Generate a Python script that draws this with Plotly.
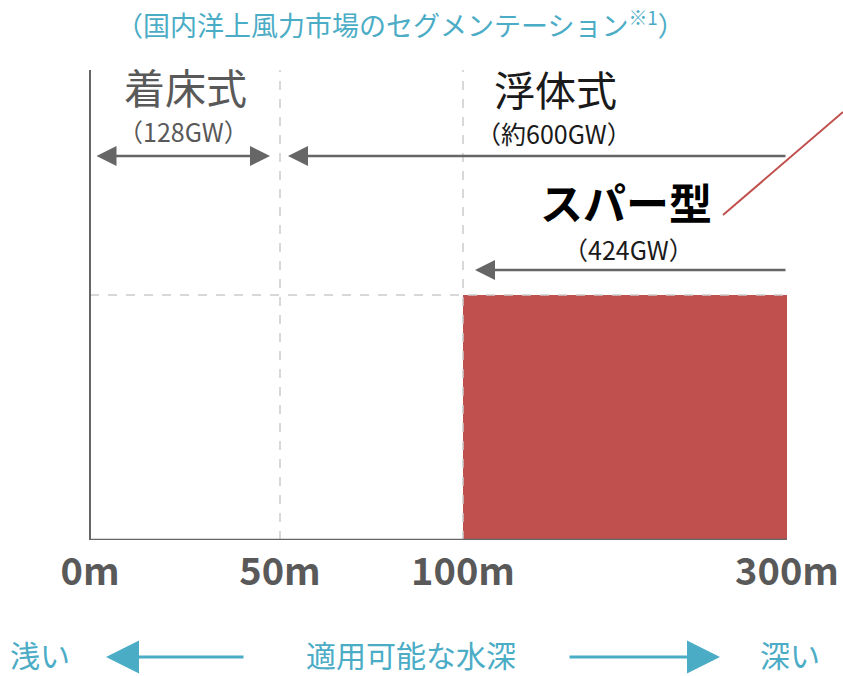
import plotly.graph_objects as go

# ---- data ----
depth_labels = ["0m", "50m", "100m", "300m"]
segment_names = ["着床式", "浮体式", "スパー型"]
segment_capacity = ["（128GW）", "（約600GW）", "（424GW）"]
segment_start = [0, 1, 2]   # index into depth_labels
segment_end = [1, 3, 3]
highlight_segment = 2       # スパー型 drawn as bar
bar_value = [1.0]

title_text = "（国内洋上風力市場のセグメンテーション<sup>※1</sup>）"
bottom_left = "浅い"
bottom_mid = "適用可能な水深"
bottom_right = "深い"

# ---- layout helpers ----
W, H = 843, 676
PLOT_BOTTOM = 540            # pixel row of x-axis
X0 = 90                      # pixel column of 0m
YUNIT = 245                  # pixels per bar unit
depth_pos = [0, 190, 373, 697]   # horizontal tick positions (axis units = px)

def X(px):
    return px - X0

def Y(py):
    return (PLOT_BOTTOM - py) / YUNIT

def PY(py):
    return (PLOT_BOTTOM - py) / PLOT_BOTTOM

GRAY = "#666666"
TXT_GRAY = "#595959"
TEAL = "#4BACC6"
RED = "#C0504D"
JP = "Noto Sans CJK JP"

fig = go.Figure()

s0, s1 = depth_pos[segment_start[highlight_segment]], depth_pos[segment_end[highlight_segment]]
fig.add_trace(go.Bar(
    x=[(s0 + s1) / 2], y=bar_value, width=[s1 - s0],
    marker=dict(color=RED, line=dict(width=0)),
    hoverinfo="skip", showlegend=False,
))

ytop = Y(70)
shapes = []
# dashed grid
for p in depth_pos[1:3]:
    shapes.append(dict(type="line", x0=p, x1=p, y0=0, y1=ytop, xref="x", yref="y",
                       line=dict(color="#CCCCCC", width=1.5, dash="dash"), layer="above"))
shapes.append(dict(type="line", x0=depth_pos[0], x1=depth_pos[3], y0=bar_value[0], y1=bar_value[0],
                   xref="x", yref="y", line=dict(color="#CCCCCC", width=1.5, dash="dash"), layer="above"))
# axis lines
shapes.append(dict(type="line", x0=depth_pos[0], x1=depth_pos[0], y0=0, y1=ytop, xref="x", yref="y",
                   line=dict(color=GRAY, width=2)))
shapes.append(dict(type="line", x0=depth_pos[0], x1=depth_pos[3], y0=0, y1=0, xref="x", yref="y",
                   line=dict(color=GRAY, width=2.5)))
# red pointer line
shapes.append(dict(type="line", x0=X(723), y0=Y(215), x1=X(843), y1=Y(112), xref="x", yref="y",
                   line=dict(color=RED, width=2)))

ann = []
def arrow(xh, xt, y, both=False, color=GRAY, width=2.5, size=1.6, ref="x"):
    d = dict(x=xh, y=y, ax=xt, ay=y, showarrow=True, arrowhead=2, arrowsize=size,
             arrowwidth=width, arrowcolor=color, text="", standoff=0, startstandoff=0)
    if ref == "x":
        d.update(xref="x", yref="y", axref="x", ayref="y")
    else:
        d.update(xref="paper", yref="paper", axref="pixel", ayref="pixel", ax=xt, ay=0)
    if both:
        d.update(arrowside="end+start", startarrowhead=2, startarrowsize=size)
    return d

def text(x, y, t, size, color, bold=False, ref="x"):
    d = dict(x=x, y=y, text=("<b>%s</b>" % t) if bold else t, showarrow=False,
             font=dict(family=JP, size=size, color=color), xanchor="center", yanchor="middle")
    if ref == "x":
        d.update(xref="x", yref="y")
    else:
        d.update(xref="paper", yref="paper")
    return d

# title
ann.append(text(400 / W, PY(24), title_text, 27, TEAL, ref="p"))
# 着床式
ann.append(text(X(185), Y(86), segment_names[0], 41, TXT_GRAY))
ann.append(text(X(183), Y(131), segment_capacity[0], 25, TXT_GRAY))
ann.append(arrow(depth_pos[segment_end[0]] - 10, depth_pos[segment_start[0]] + 5, Y(156), both=True))
# 浮体式
ann.append(text(X(555), Y(88), segment_names[1], 41, "#1a1a1a"))
ann.append(text(X(554), Y(133), segment_capacity[1], 25, "#1a1a1a"))
ann.append(arrow(depth_pos[segment_start[1]] + 8, depth_pos[segment_end[1]], Y(156)))
# スパー型
ann.append(text(X(626), Y(201), segment_names[2], 43, "#000000", bold=True))
ann.append(text(X(628), Y(249), segment_capacity[2], 25, "#1a1a1a"))
ann.append(arrow(depth_pos[segment_start[2]] + 12, depth_pos[segment_end[2]], Y(270)))

# bottom legend
ann.append(text(40 / W, PY(654), bottom_left, 30, TEAL, ref="p"))
ann.append(text(411 / W, PY(654), bottom_mid, 30, TEAL, ref="p"))
ann.append(text(790 / W, PY(654), bottom_right, 30, TEAL, ref="p"))
ann.append(arrow(106 / W, 245 - 106, PY(657), color=TEAL, width=3, size=2.2, ref="p"))
ann.append(arrow(720 / W, 568 - 720, PY(657), color=TEAL, width=3, size=2.2, ref="p"))

fig.update_layout(
    width=W, height=H,
    margin=dict(l=0, r=0, t=0, b=H - PLOT_BOTTOM),
    paper_bgcolor="white", plot_bgcolor="white",
    shapes=shapes, annotations=ann, showlegend=False,
    xaxis=dict(range=[X(0), X(W)], tickvals=depth_pos, ticktext=["<b>%s</b>" % t for t in depth_labels],
               tickfont=dict(family=JP, size=38, color=TXT_GRAY), showgrid=False, zeroline=False,
               showline=False, ticks="", ticklabelstandoff=6, fixedrange=True),
    yaxis=dict(range=[0, Y(0)], visible=False, showgrid=False, zeroline=False, fixedrange=True),
    bargap=0,
)

fig.write_html("out.html")
